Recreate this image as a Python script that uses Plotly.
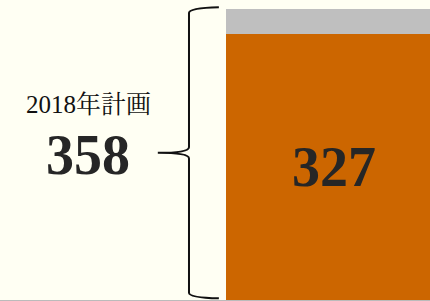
import plotly.graph_objects as go

# Data
plan_label = "2018年計画"
plan_total = 358
actual = 327
remaining = plan_total - actual

bar_x = [0.777]
bar_width = 0.502

bg = "#fffff3"
orange = "#cc6600"
gray = "#bfbfbf"
serif = "Liberation Serif, Times New Roman, Noto Serif CJK JP, Noto Sans CJK JP, serif"

fig = go.Figure()
fig.add_trace(go.Bar(
    x=bar_x, y=[actual], width=bar_width, marker=dict(color=orange, line=dict(width=0)),
    text=[f"<b>{actual}</b>"], textposition="inside", insidetextanchor="middle",
    textfont=dict(family=serif, size=56, color="#262626"), hoverinfo="skip",
))
fig.add_trace(go.Bar(
    x=bar_x, y=[remaining], width=bar_width, marker=dict(color=gray, line=dict(width=0)),
    hoverinfo="skip", text=[""],
))

# Brace (in data coords, from 0 to plan_total)
top, bot = plan_total + 2, 2
mid = (top + bot) / 2
r = 7
xs, xtip, xpt = 0.4395, 0.509, 0.367
path = (f"M {xtip},{top} Q {xs},{top-1} {xs},{top-r} "
        f"L {xs},{mid+r} Q {xs},{mid} {xpt},{mid} "
        f"Q {xs},{mid} {xs},{mid-r} "
        f"L {xs},{bot+r} Q {xs},{bot+1} {xtip},{bot}")
fig.add_shape(type="path", path=path, xref="x", yref="y",
              line=dict(color="#111111", width=2))

fig.add_annotation(x=0.205, y=plan_total * 0.672, xref="x", yref="y", text=plan_label,
                   showarrow=False, font=dict(family=serif, size=25, color="#111111"))
fig.add_annotation(x=0.205, y=plan_total * 0.5, xref="x", yref="y", text=f"<b>{plan_total}</b>",
                   showarrow=False, font=dict(family=serif, size=56, color="#262626"))

R = plan_total * 300 / 291
fig.update_layout(
    barmode="stack", width=430, height=301,
    margin=dict(l=0, r=0, t=0, b=1),
    paper_bgcolor=bg, plot_bgcolor=bg, showlegend=False,
    xaxis=dict(range=[0, 1], showgrid=False, zeroline=False, showticklabels=False,
               showline=True, linecolor="#bbbbbb", linewidth=1, ticks=""),
    yaxis=dict(range=[0, R], showgrid=False, zeroline=False, showticklabels=False, ticks=""),
)
fig.write_html("out.html", config={"displayModeBar": False, "staticPlot": True},
               post_script="document.body.style.margin='0';document.body.style.overflow='hidden';")
